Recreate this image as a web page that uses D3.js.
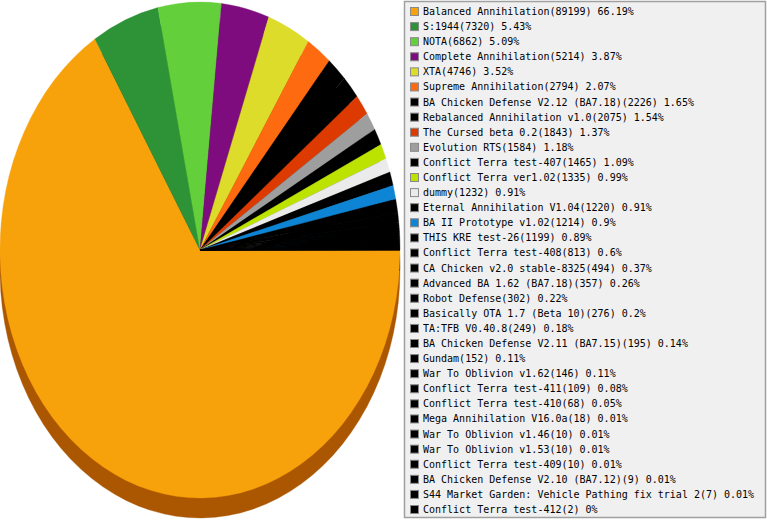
<!DOCTYPE html>
<html><head><meta charset="utf-8">
<script src="https://cdn.jsdelivr.net/npm/d3@7/dist/d3.min.js"></script>
<style>html,body{margin:0;padding:0;background:#fff;}svg{display:block;}</style>
</head><body>
<svg id="chart" width="767" height="520"></svg>
<script>
const names = ["Balanced Annihilation","S:1944","NOTA","Complete Annihilation","XTA","Supreme Annihilation",
"BA Chicken Defense V2.12 (BA7.18)","Rebalanced Annihilation v1.0","The Cursed beta 0.2","Evolution RTS",
"Conflict Terra test-407","Conflict Terra ver1.02","dummy","Eternal Annihilation V1.04","BA II Prototype v1.02",
"THIS KRE test-26","Conflict Terra test-408","CA Chicken v2.0 stable-8325","Advanced BA 1.62 (BA7.18)",
"Robot Defense","Basically OTA 1.7 (Beta 10)","TA:TFB V0.40.8","BA Chicken Defense V2.11 (BA7.15)","Gundam",
"War To Oblivion v1.62","Conflict Terra test-411","Conflict Terra test-410","Mega Annihilation V16.0a",
"War To Oblivion v1.46","War To Oblivion v1.53","Conflict Terra test-409","BA Chicken Defense V2.10 (BA7.12)",
"S44 Market Garden: Vehicle Pathing fix trial 2","Conflict Terra test-412"];
const counts = [89199,7320,6862,5214,4746,2794,2226,2075,1843,1584,1465,1335,1232,1220,1214,1199,813,494,357,302,276,249,195,152,146,109,68,18,10,10,10,9,7,2];
const colors = ["#F8A20B","#2E9236","#62CF3B","#7E0C7E","#DEDC2B","#FE6A0F","#000000","#000000","#DC3A00","#9E9E9E",
"#000000","#BCE200","#EBEBEB","#000000","#0D84D4","#000000","#000000","#000000","#000000","#000000","#000000",
"#000000","#000000","#000000","#000000","#000000","#000000","#000000","#000000","#000000","#000000","#000000","#000000","#000000"];

const svg = d3.select("#chart");
const total = d3.sum(counts);
const data = names.map((n,i)=>({name:n,count:counts[i],color:colors[i]}));

const cx = 200, cy = 250, rx = 200, ry = 248, depth = 20;
const pie = d3.pie().value(d=>d.count).sort(null).startAngle(Math.PI/2).endAngle(Math.PI/2 + 2*Math.PI);
const arcs = pie(data);
const arc = d3.arc().innerRadius(0).outerRadius(rx);

function shade(c){
  const h = d3.hsl(c);
  if (isNaN(h.h)) return d3.color(c).darker(1.2).formatHex();
  return d3.hsl(h.h - 6, Math.min(1,h.s), h.l*0.36).formatHex();
}

// shadow (bottom face)
svg.append("g").attr("transform",`translate(${cx},${cy+depth}) scale(1,${ry/rx})`)
  .selectAll("path").data(arcs).join("path")
  .attr("d",arc).attr("fill",d=>d.index===0?"#AB5600":shade(d.data.color))
  .attr("stroke",d=>d.index===0?"#AB5600":shade(d.data.color)).attr("stroke-width",0.3);

// top face
svg.append("g").attr("transform",`translate(${cx},${cy}) scale(1,${ry/rx})`)
  .selectAll("path").data(arcs).join("path")
  .attr("d",arc).attr("fill",d=>d.data.color)
  .attr("stroke",d=>d.data.color).attr("stroke-width",0.3);

// legend
const lx = 404, ly = 1, lw = 362, lh = 517;
svg.append("rect").attr("x",lx+0.5).attr("y",ly+0.5).attr("width",lw-1).attr("height",lh-1)
  .attr("fill","#F0F0F0").attr("stroke","#A0A0A0").attr("stroke-width",1.5);

const rowY = d3.scaleLinear().domain([0, names.length-1]).range([11, 509]);
const fmt = v => String(Math.round(v/total*10000)/100);
const rows = svg.append("g").selectAll("g").data(data).join("g")
  .attr("transform",(d,i)=>`translate(0,${rowY(i)})`);
rows.append("rect").attr("x",410.5).attr("y",-3.5).attr("width",8).attr("height",8)
  .attr("fill",d=>d.color).attr("stroke","#8a8a8a").attr("stroke-width",1);
rows.append("text").attr("x",423).attr("y",4)
  .attr("font-family","'DejaVu Sans Mono', monospace").attr("font-size","10px").attr("fill","#000")
  .text(d=>`${d.name}(${d.count}) ${fmt(d.count)}%`);
</script>
</body></html>
